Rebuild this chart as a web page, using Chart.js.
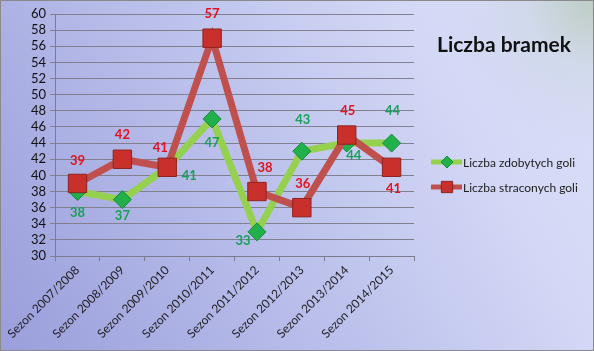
<!DOCTYPE html>
<html>
<head>
<meta charset="utf-8">
<script src="https://cdn.jsdelivr.net/npm/chart.js@4/dist/chart.umd.min.js"></script>
<style>
  html, body { margin: 0; padding: 0; background: #fff; }
  #wrap {
    width: 594px; height: 351px; position: relative;
    background:
      radial-gradient(circle at 100% 0%, rgba(185,202,185,0.85) 0px, rgba(200,212,220,0.4) 70px, rgba(210,215,240,0) 150px),
      linear-gradient(60deg, #9a9edb 0%, #bcc1ec 45%, #d3d8f6 75%, #dadff8 100%);
  }
  canvas { display: block; }
</style>
</head>
<body>
<div id="wrap"><canvas id="chart" width="594" height="351"></canvas></div>
<script>
// Data
const seasons = ['Sezon 2007/2008', 'Sezon 2008/2009', 'Sezon 2009/2010', 'Sezon 2010/2011',
                 'Sezon 2011/2012', 'Sezon 2012/2013', 'Sezon 2013/2014', 'Sezon 2014/2015'];
const goalsScored = [38, 37, 41, 47, 33, 43, 44, 44];
const goalsLost = [39, 42, 41, 57, 38, 36, 45, 41];
const chartTitle = 'Liczba bramek';
const scoredName = 'Liczba zdobytych goli';
const lostName = 'Liczba straconych goli';

// Label placement (pixel offsets from each point), styling only
const scoredLabelOffset = [[0, 21], [0, 16], [22, 8], [0, 24], [-14, 9], [1, -31], [7, 13], [1, -32]];
const lostLabelOffset = [[0, -23], [0, -24], [-7, -20], [0, -24], [8, -24], [1, -24], [1, -24], [2, 21]];

const FONT = 'Lato, "Noto Sans", sans-serif';
const greenLine = '#95d04f';
const redLine = '#c0504d';

// Data labels, title, legend and frame
const extras = {
  id: 'extras',
  afterDatasetsDraw(chart) {
    const ctx = chart.ctx;
    ctx.save();
    ctx.font = 'bold 13px ' + FONT;
    ctx.textAlign = 'center';
    ctx.textBaseline = 'middle';
    const sets = [
      { idx: 0, offs: lostLabelOffset, color: '#e3121c' },
      { idx: 1, offs: scoredLabelOffset, color: '#1a9f58' }
    ];
    sets.forEach(s => {
      const meta = chart.getDatasetMeta(s.idx);
      const vals = chart.data.datasets[s.idx].data;
      ctx.fillStyle = s.color;
      meta.data.forEach((pt, i) => {
        ctx.fillText(String(vals[i]), pt.x + s.offs[i][0], pt.y + s.offs[i][1]);
      });
    });
    ctx.restore();
  },
  afterDraw(chart) {
    const ctx = chart.ctx;
    ctx.save();
    // title
    ctx.font = 'bold 21px ' + FONT;
    ctx.fillStyle = '#111';
    ctx.textAlign = 'center';
    ctx.textBaseline = 'middle';
    ctx.fillText(chartTitle, 504, 45);

    // legend
    const items = [
      { name: scoredName, line: greenLine, fill: '#22b04b', stroke: '#178a3a', style: 'rectRot', r: 6, y: 162 },
      { name: lostName, line: redLine, fill: '#c9302c', stroke: '#8e2320', style: 'rect', r: 8, y: 187 }
    ];
    items.forEach(it => {
      ctx.strokeStyle = it.line;
      ctx.lineWidth = 5;
      ctx.beginPath();
      ctx.moveTo(431, it.y);
      ctx.lineTo(462, it.y);
      ctx.stroke();
      ctx.fillStyle = it.fill;
      ctx.strokeStyle = it.stroke;
      ctx.lineWidth = 1;
      Chart.helpers.drawPoint(ctx, { pointStyle: it.style, radius: it.r, borderWidth: 1 }, 447, it.y);
      ctx.font = '12px ' + FONT;
      ctx.fillStyle = '#1c1c1c';
      ctx.textAlign = 'left';
      ctx.fillText(it.name, 463, it.y + 1);
    });

    // outer frame
    ctx.strokeStyle = '#8a8a8a';
    ctx.lineWidth = 1;
    ctx.strokeRect(0.5, 0.5, chart.width - 1, chart.height - 1);
    ctx.restore();
  }
};

const chart = new Chart(document.getElementById('chart'), {
  type: 'line',
  data: {
    labels: seasons,
    datasets: [
      {
        label: lostName,
        data: goalsLost,
        borderColor: redLine,
        borderWidth: 7,
        pointStyle: 'rect',
        pointRadius: 13,
        pointBackgroundColor: '#c9302c',
        pointBorderColor: '#8e2320',
        pointBorderWidth: 1,
        tension: 0,
        order: 0
      },
      {
        label: scoredName,
        data: goalsScored,
        borderColor: greenLine,
        borderWidth: 7,
        pointStyle: 'rectRot',
        pointRadius: 9,
        pointBackgroundColor: '#22b04b',
        pointBorderColor: '#178a3a',
        pointBorderWidth: 1,
        tension: 0,
        order: 1
      }
    ]
  },
  options: {
    responsive: false,
    animation: false,
    devicePixelRatio: 1,
    layout: { padding: { left: 27, right: 180, top: 9, bottom: 8 } },
    plugins: {
      legend: { display: false },
      title: { display: false },
      tooltip: { enabled: false }
    },
    scales: {
      x: {
        offset: true,
        grid: { drawOnChartArea: false, tickLength: 5, color: '#7c7c8c', offset: true },
        border: { color: '#7c7c8c' },
        ticks: {
          minRotation: 45, maxRotation: 45, padding: 2, autoSkip: false,
          color: '#1e1e1e', font: { family: FONT, size: 12 }
        }
      },
      y: {
        min: 30,
        max: 60,
        grid: { color: '#80808e', tickLength: 5 },
        border: { color: '#7c7c8c' },
        ticks: {
          stepSize: 2, padding: 4, autoSkip: false,
          color: '#111', font: { family: FONT, size: 13 }
        }
      }
    }
  },
  plugins: [extras]
});
</script>
</body>
</html>
